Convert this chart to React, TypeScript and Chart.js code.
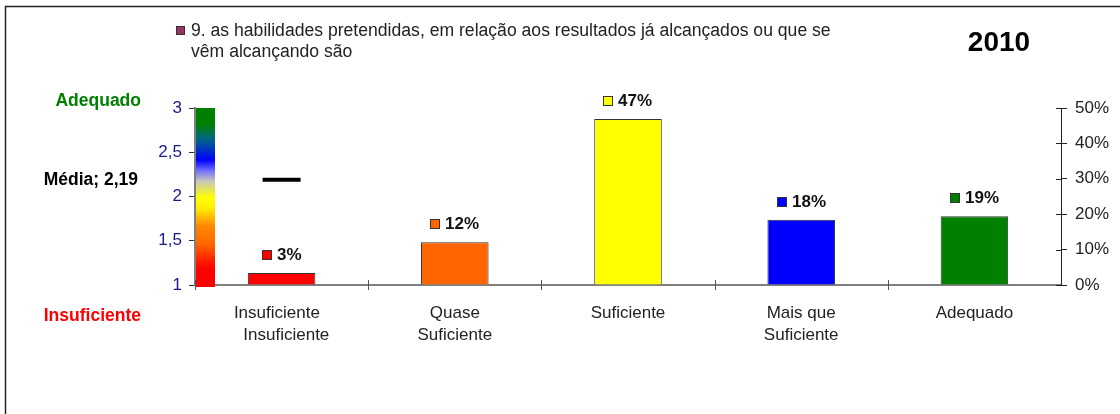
import React, { useEffect, useRef } from 'react';
import { Chart, registerables } from 'chart.js';

Chart.register(...registerables);

const FONT = '"Liberation Sans", Arial, sans-serif';

const categories: (string | string[])[] = [
  ['Insuficiente  ', '  Insuficiente'],
  ['Quase', 'Suficiente'],
  'Suficiente',
  ['Mais que', 'Suficiente'],
  'Adequado',
];
const percentValues = [3.4, 12.1, 46.9, 18.4, 19.4];
const barColors = ['#ff0000', '#ff6600', '#ffff00', '#0000ff', '#008000'];
const meanValue = 2.19;
const meanSeries = [meanValue, null, null, null, null];
const leftMin = 1;
const leftMax = 3;
const leftStep = 0.5;
const rightMin = 0;
const rightMax = 50;
const rightStep = 10;
const titleLines = [
  '9. as habilidades pretendidas, em relação aos resultados já alcançados ou que se',
  'vêm alcançando são',
];
const legendColor = '#993366';
const yearLabel = '2010';
const topScaleLabel = 'Adequado';
const bottomScaleLabel = 'Insuficiente';
const meanLabel = 'Média; 2,19';
const gradientStops: [number, string][] = [
  [0, '#008000'],
  [0.09, '#008000'],
  [0.17, '#006a80'],
  [0.29, '#0000ff'],
  [0.35, '#7070ff'],
  [0.41, '#c8c8b8'],
  [0.5, '#ffff00'],
  [0.56, '#ffee00'],
  [0.66, '#ff8800'],
  [0.76, '#ff6600'],
  [0.86, '#ff1800'],
  [0.9, '#ff0000'],
  [1, '#ff0000'],
];

const decorPlugin = {
  id: 'decor',
  beforeDraw(chart: any) {
    const { ctx, width, height } = chart;
    ctx.save();
    ctx.fillStyle = '#ffffff';
    ctx.fillRect(0, 0, width, height);
    ctx.strokeStyle = '#222';
    ctx.lineWidth = 1.5;
    ctx.beginPath();
    ctx.moveTo(5.5, height);
    ctx.lineTo(5.5, 6.5);
    ctx.lineTo(width, 6.5);
    ctx.stroke();

    ctx.fillStyle = legendColor;
    ctx.fillRect(176.5, 26.5, 8, 8);
    ctx.strokeStyle = '#333';
    ctx.lineWidth = 1;
    ctx.strokeRect(176.5, 26.5, 8, 8);
    ctx.fillStyle = '#222';
    ctx.font = `17.6px ${FONT}`;
    ctx.textAlign = 'left';
    ctx.textBaseline = 'middle';
    ctx.fillText(titleLines[0], 191, 31);
    ctx.fillText(titleLines[1], 191, 52);

    ctx.fillStyle = '#000';
    ctx.font = `bold 28px ${FONT}`;
    ctx.textAlign = 'center';
    ctx.fillText(yearLabel, 999, 43);
    ctx.restore();
  },
  beforeDatasetsDraw(chart: any) {
    const { ctx } = chart;
    const y = chart.scales.y;
    const top = y.getPixelForValue(leftMax);
    const bottom = y.getPixelForValue(leftMin) + 2;
    const left = y.right + 1;
    const right = left + 19;
    const g = ctx.createLinearGradient(0, top, 0, bottom);
    gradientStops.forEach(([p, c]) => g.addColorStop(p, c));
    ctx.save();
    ctx.fillStyle = g;
    ctx.fillRect(left, top, right - left, bottom - top);
    ctx.restore();
  },
  afterDatasetsDraw(chart: any) {
    const { ctx } = chart;
    const meta = chart.getDatasetMeta(0);
    ctx.save();
    ctx.font = `bold 17px ${FONT}`;
    ctx.textBaseline = 'middle';
    ctx.textAlign = 'left';
    meta.data.forEach((el: any, i: number) => {
      const text = Math.round(percentValues[i]) + '%';
      const w = ctx.measureText(text).width;
      const sq = 10;
      const gap = 5;
      const total = sq + gap + w;
      const sx = Math.round(el.x - total / 2);
      const ty = el.y - 18;
      const sy = Math.round(ty - 5);
      ctx.fillStyle = barColors[i];
      ctx.fillRect(sx + 0.5, sy + 0.5, sq - 1, sq - 1);
      ctx.strokeStyle = '#333';
      ctx.lineWidth = 1;
      ctx.strokeRect(sx + 0.5, sy + 0.5, sq - 1, sq - 1);
      ctx.fillStyle = '#111';
      ctx.fillText(text, sx + sq + gap, ty);
    });
    ctx.restore();
  },
  afterDraw(chart: any) {
    const { ctx, chartArea } = chart;
    const x = chart.scales.x;
    const y = chart.scales.y;
    const y1 = chart.scales.y1;
    ctx.save();
    ctx.strokeStyle = '#555';
    ctx.lineWidth = 1;
    const n = categories.length;
    for (let i = 0; i <= n - 1; i++) {
      const px = Math.round(x.left + (i * x.width) / n) + 0.5;
      ctx.beginPath();
      ctx.moveTo(px, chartArea.bottom - 5);
      ctx.lineTo(px, chartArea.bottom + 5);
      ctx.stroke();
    }
    ctx.strokeStyle = '#222';
    for (let v = rightMin; v <= rightMax; v += rightStep) {
      const py = Math.round(y1.getPixelForValue(v)) + 0.5;
      ctx.beginPath();
      ctx.moveTo(y1.left - 5, py);
      ctx.lineTo(y1.left, py);
      ctx.stroke();
    }
    ctx.font = `bold 17.5px ${FONT}`;
    ctx.textAlign = 'right';
    ctx.textBaseline = 'middle';
    ctx.fillStyle = '#008000';
    ctx.fillText(topScaleLabel, 141, y.getPixelForValue(leftMax) - 7);
    ctx.fillStyle = '#000';
    ctx.fillText(meanLabel, 138, y.getPixelForValue(meanValue));
    ctx.fillStyle = '#ff0000';
    ctx.fillText(bottomScaleLabel, 141, y.getPixelForValue(leftMin) + 31);
    ctx.restore();
  },
};

export default function App() {
  const ref = useRef<HTMLCanvasElement | null>(null);
  useEffect(() => {
    if (!ref.current) return;
    const chart = new Chart(ref.current, {
      type: 'bar',
      data: {
        labels: categories,
        datasets: [
          {
            type: 'bar',
            label: 'Percentual',
            data: percentValues,
            backgroundColor: barColors,
            borderColor: '#333',
            borderWidth: 1,
            yAxisID: 'y1',
            categoryPercentage: 1,
            barPercentage: 0.39,
            order: 2,
          } as any,
          {
            type: 'line',
            label: 'Média',
            data: meanSeries,
            yAxisID: 'y',
            showLine: false,
            pointStyle: 'line',
            pointRadius: 19,
            pointHoverRadius: 19,
            pointBorderWidth: 4,
            borderColor: '#000',
            backgroundColor: '#000',
            order: 1,
          } as any,
        ],
      },
      options: {
        responsive: false,
        animation: false,
        devicePixelRatio: 1,
        layout: { padding: { top: 108, left: 0, right: 0, bottom: 0 } },
        plugins: {
          legend: { display: false },
          tooltip: { enabled: false },
          title: { display: false },
        },
        scales: {
          x: {
            type: 'category',
            offset: true,
            grid: { display: false, drawTicks: false },
            border: { display: true, color: '#808080', width: 2 },
            ticks: {
              color: '#222',
              padding: 17,
              maxRotation: 0,
              autoSkip: false,
              font: { family: FONT, size: 17, lineHeight: 22 / 17 },
            },
            afterFit: (s: any) => {
              s.height = 129;
            },
          },
          y: {
            position: 'left',
            min: leftMin,
            max: leftMax,
            grid: { drawOnChartArea: false, drawTicks: true, tickLength: 6, color: '#333' },
            border: { display: true, color: '#808080', width: 2 },
            ticks: {
              stepSize: leftStep,
              color: '#1a1a8c',
              padding: 7,
              font: { family: FONT, size: 17 },
              callback: (v: any) => String(v).replace('.', ','),
            },
            afterFit: (s: any) => {
              s.width = 195;
            },
          },
          y1: {
            position: 'right',
            min: rightMin,
            max: rightMax,
            grid: { drawOnChartArea: false, drawTicks: true, tickLength: 6, color: '#222' },
            border: { display: true, color: '#222', width: 1 },
            ticks: {
              stepSize: rightStep,
              color: '#222',
              padding: 8,
              font: { family: FONT, size: 17 },
              callback: (v: any) => v + '%',
            },
            afterFit: (s: any) => {
              s.width = 59;
            },
          },
        },
      } as any,
      plugins: [decorPlugin],
    });
    return () => chart.destroy();
  }, []);
  return (
    <div style={{ position: 'absolute', left: 0, top: 0, width: 1120, height: 414, background: '#fff' }}>
      <canvas ref={ref} width={1120} height={414} style={{ display: 'block' }} />
    </div>
  );
}
